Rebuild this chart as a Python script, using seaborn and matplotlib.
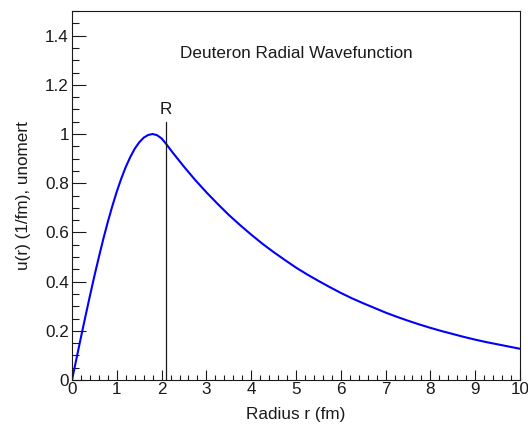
import numpy as np
import pandas as pd
import matplotlib
matplotlib.use('Agg')
import matplotlib.pyplot as plt
import seaborn as sns
from matplotlib.ticker import MultipleLocator

## Values
radius = [0.0, 0.1, 0.2, 0.3, 0.4, 0.5, 0.6, 0.7, 0.8, 0.9, 1.0,
          1.1, 1.2, 1.3, 1.4, 1.5, 1.6, 1.7, 1.8, 1.9, 2.0, 2.1,
          2.25, 2.5, 2.75, 3.0, 3.25, 3.5, 3.75, 4.0, 4.25, 4.5, 4.75,
          5.0, 5.25, 5.5, 5.75, 6.0, 6.25, 6.5, 6.75, 7.0, 7.25, 7.5,
          7.75, 8.0, 8.25, 8.5, 8.75, 9.0, 9.25, 9.5, 9.75, 10.0]
u_r    = [0.000, 0.087, 0.174, 0.259, 0.342, 0.423, 0.500, 0.574, 0.643, 0.707, 0.766,
          0.819, 0.866, 0.906, 0.940, 0.966, 0.985, 0.996, 1.000, 0.995, 0.982, 0.960,
          0.924, 0.867, 0.813, 0.763, 0.716, 0.671, 0.630, 0.591, 0.554, 0.520, 0.488,
          0.457, 0.429, 0.403, 0.378, 0.354, 0.332, 0.312, 0.293, 0.274, 0.257, 0.241,
          0.226, 0.212, 0.199, 0.187, 0.175, 0.164, 0.154, 0.145, 0.136, 0.127]
R_pos   = 2.1
R_top   = 1.05
title   = 'Deuteron Radial Wavefunction'
xlabel  = 'Radius r (fm)'
ylabel  = 'u(r) (1/fm), unomert'

df = pd.DataFrame({'r': radius, 'u': u_r})

## Style
sns.set_theme(style='white')
plt.rcParams['font.family'] = ['Liberation Sans', 'DejaVu Sans']
plt.rcParams['text.color'] = 'k'
plt.rcParams['axes.labelcolor'] = 'k'
fs = 12.3

fig = plt.figure(figsize=(5.28, 4.26), dpi=100)
ax = fig.add_axes([72/528, 1-380/426, 448/528, 369/426])

## Plotting
sns.lineplot(data=df, x='r', y='u', color='#0000ff', lw=1.5, ax=ax)
ax.plot([R_pos, R_pos], [0, R_top], color='k', lw=0.9)
ax.text(R_pos, 1.1, 'R', ha='center', va='center', fontsize=fs, color='k')
ax.text(5.0, 1.327, title, ha='center', va='center', fontsize=fs, color='k')

## Axis customization
ax.set_xlim(0, 10)
ax.set_ylim(0, 1.5)
ax.xaxis.set_minor_locator(MultipleLocator(0.2))
ax.yaxis.set_minor_locator(MultipleLocator(0.05))
ax.set_yticks(np.arange(0, 1.41, 0.2))
ax.set_yticklabels(['0', '0.2', '0.4', '0.6', '0.8', '1', '1.2', '1.4'])
ax.set_xticks(np.arange(0, 11, 1))
ax.set_xticklabels([str(i) for i in range(11)])
ax.tick_params(axis='x', which='major', direction='in', length=7.2, width=0.8, pad=1.5,
               labelsize=fs, bottom=True, top=False, colors='k', labelcolor='k')
ax.tick_params(axis='x', which='minor', direction='in', length=3.6, width=0.8,
               bottom=True, top=False, colors='k')
ax.tick_params(axis='y', which='major', direction='in', length=9.9, width=0.8, pad=2.2,
               labelsize=fs, left=True, right=False, colors='k', labelcolor='k')
ax.tick_params(axis='y', which='minor', direction='in', length=5, width=0.8,
               left=True, right=False, colors='k')
for sp in ax.spines.values():
    sp.set_color('k')
    sp.set_linewidth(0.8)
ax.set_xlabel(xlabel, fontsize=fs, labelpad=7, color='k')
ax.set_ylabel(ylabel, fontsize=fs, labelpad=10, color='k')

fig.savefig('out.png', dpi=100)
